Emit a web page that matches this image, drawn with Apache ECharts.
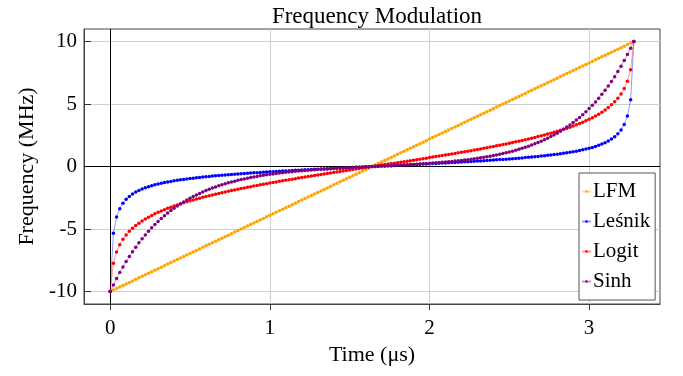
<!DOCTYPE html>
<html>
<head>
<meta charset="utf-8">
<script src="https://cdn.jsdelivr.net/npm/echarts@6/dist/echarts.min.js"></script>
<style>
  html, body { margin: 0; padding: 0; background: #fff; }
  #chart { width: 683px; height: 376px; }
</style>
</head>
<body>
<div id="chart"></div>
<script>
// sample times (µs)
const time = [
  0, 0.02, 0.04, 0.06, 0.08, 0.1, 0.12, 0.14, 0.16, 0.18,
  0.2, 0.22, 0.24, 0.26, 0.28, 0.3, 0.32, 0.34, 0.36, 0.38,
  0.4, 0.42, 0.44, 0.46, 0.48, 0.5, 0.52, 0.54, 0.56, 0.58,
  0.6, 0.62, 0.64, 0.66, 0.68, 0.7, 0.72, 0.74, 0.76, 0.78,
  0.8, 0.82, 0.84, 0.86, 0.88, 0.9, 0.92, 0.94, 0.96, 0.98,
  1, 1.02, 1.04, 1.06, 1.08, 1.1, 1.12, 1.14, 1.16, 1.18,
  1.2, 1.22, 1.24, 1.26, 1.28, 1.3, 1.32, 1.34, 1.36, 1.38,
  1.4, 1.42, 1.44, 1.46, 1.48, 1.5, 1.52, 1.54, 1.56, 1.58,
  1.6, 1.62, 1.64, 1.66, 1.68, 1.7, 1.72, 1.74, 1.76, 1.78,
  1.8, 1.82, 1.84, 1.86, 1.88, 1.9, 1.92, 1.94, 1.96, 1.98,
  2, 2.02, 2.04, 2.06, 2.08, 2.1, 2.12, 2.14, 2.16, 2.18,
  2.2, 2.22, 2.24, 2.26, 2.28, 2.3, 2.32, 2.34, 2.36, 2.38,
  2.4, 2.42, 2.44, 2.46, 2.48, 2.5, 2.52, 2.54, 2.56, 2.58,
  2.6, 2.62, 2.64, 2.66, 2.68, 2.7, 2.72, 2.74, 2.76, 2.78,
  2.8, 2.82, 2.84, 2.86, 2.88, 2.9, 2.92, 2.94, 2.96, 2.98,
  3, 3.02, 3.04, 3.06, 3.08, 3.1, 3.12, 3.14, 3.16, 3.18,
  3.2, 3.22, 3.24, 3.26, 3.28
];

// frequency (MHz) per sample
const lfm = [
  -10, -9.88, -9.76, -9.63, -9.51, -9.39, -9.27, -9.15, -9.02, -8.9,
  -8.78, -8.66, -8.54, -8.41, -8.29, -8.17, -8.05, -7.93, -7.8, -7.68,
  -7.56, -7.44, -7.32, -7.2, -7.07, -6.95, -6.83, -6.71, -6.59, -6.46,
  -6.34, -6.22, -6.1, -5.98, -5.85, -5.73, -5.61, -5.49, -5.37, -5.24,
  -5.12, -5, -4.88, -4.76, -4.63, -4.51, -4.39, -4.27, -4.15, -4.02,
  -3.9, -3.78, -3.66, -3.54, -3.41, -3.29, -3.17, -3.05, -2.93, -2.8,
  -2.68, -2.56, -2.44, -2.32, -2.2, -2.07, -1.95, -1.83, -1.71, -1.59,
  -1.46, -1.34, -1.22, -1.1, -0.98, -0.85, -0.73, -0.61, -0.49, -0.37,
  -0.24, -0.12,
  0,
  0.12, 0.24,
  0.37, 0.49, 0.61, 0.73, 0.85, 0.98, 1.1, 1.22, 1.34, 1.46,
  1.59, 1.71, 1.83, 1.95, 2.07, 2.2, 2.32, 2.44, 2.56, 2.68,
  2.8, 2.93, 3.05, 3.17, 3.29, 3.41, 3.54, 3.66, 3.78, 3.9,
  4.02, 4.15, 4.27, 4.39, 4.51, 4.63, 4.76, 4.88, 5, 5.12,
  5.24, 5.37, 5.49, 5.61, 5.73, 5.85, 5.98, 6.1, 6.22, 6.34,
  6.46, 6.59, 6.71, 6.83, 6.95, 7.07, 7.2, 7.32, 7.44, 7.56,
  7.68, 7.8, 7.93, 8.05, 8.17, 8.29, 8.41, 8.54, 8.66, 8.78,
  8.9, 9.02, 9.15, 9.27, 9.39, 9.51, 9.63, 9.76, 9.88, 10
];

const lesnik = [
  -10, -5.34, -4.04, -3.37, -2.93, -2.62, -2.39, -2.2, -2.04, -1.91,
  -1.8, -1.7, -1.61, -1.53, -1.46, -1.4, -1.34, -1.28, -1.23, -1.19,
  -1.14, -1.1, -1.06, -1.03, -0.99, -0.96, -0.93, -0.9, -0.87, -0.84,
  -0.81, -0.79, -0.76, -0.74, -0.72, -0.69, -0.67, -0.65, -0.63, -0.61,
  -0.59, -0.57, -0.56, -0.54, -0.52, -0.5, -0.49, -0.47, -0.45, -0.44,
  -0.42, -0.41, -0.39, -0.38, -0.36, -0.35, -0.33, -0.32, -0.3, -0.29,
  -0.28, -0.26, -0.25, -0.24, -0.22, -0.21, -0.2, -0.19, -0.17, -0.16,
  -0.15, -0.13, -0.12, -0.11, -0.1, -0.09, -0.07, -0.06, -0.05, -0.04,
  -0.02, -0.01,
  0,
  0.01, 0.02,
  0.04, 0.05, 0.06, 0.07, 0.09, 0.1, 0.11, 0.12, 0.13, 0.15,
  0.16, 0.17, 0.19, 0.2, 0.21, 0.22, 0.24, 0.25, 0.26, 0.28,
  0.29, 0.3, 0.32, 0.33, 0.35, 0.36, 0.38, 0.39, 0.41, 0.42,
  0.44, 0.45, 0.47, 0.49, 0.5, 0.52, 0.54, 0.56, 0.57, 0.59,
  0.61, 0.63, 0.65, 0.67, 0.69, 0.72, 0.74, 0.76, 0.79, 0.81,
  0.84, 0.87, 0.9, 0.93, 0.96, 0.99, 1.03, 1.06, 1.1, 1.14,
  1.19, 1.23, 1.28, 1.34, 1.4, 1.46, 1.53, 1.61, 1.7, 1.8,
  1.91, 2.04, 2.2, 2.39, 2.62, 2.93, 3.37, 4.04, 5.34, 10
];

const logit = [
  -10, -7.74, -6.83, -6.25, -5.81, -5.47, -5.18, -4.94, -4.72, -4.53,
  -4.35, -4.19, -4.05, -3.91, -3.78, -3.66, -3.55, -3.45, -3.34, -3.25,
  -3.15, -3.07, -2.98, -2.9, -2.82, -2.74, -2.67, -2.6, -2.53, -2.46,
  -2.4, -2.33, -2.27, -2.21, -2.15, -2.09, -2.03, -1.98, -1.92, -1.87,
  -1.81, -1.76, -1.71, -1.66, -1.61, -1.56, -1.51, -1.46, -1.41, -1.37,
  -1.32, -1.27, -1.23, -1.18, -1.14, -1.1, -1.05, -1.01, -0.97, -0.92,
  -0.88, -0.84, -0.8, -0.76, -0.72, -0.67, -0.63, -0.59, -0.55, -0.51,
  -0.47, -0.43, -0.39, -0.35, -0.31, -0.27, -0.24, -0.2, -0.16, -0.12,
  -0.08, -0.04,
  0,
  0.04, 0.08,
  0.12, 0.16, 0.2, 0.24, 0.27, 0.31, 0.35, 0.39, 0.43, 0.47,
  0.51, 0.55, 0.59, 0.63, 0.67, 0.72, 0.76, 0.8, 0.84, 0.88,
  0.92, 0.97, 1.01, 1.05, 1.1, 1.14, 1.18, 1.23, 1.27, 1.32,
  1.37, 1.41, 1.46, 1.51, 1.56, 1.61, 1.66, 1.71, 1.76, 1.81,
  1.87, 1.92, 1.98, 2.03, 2.09, 2.15, 2.21, 2.27, 2.33, 2.4,
  2.46, 2.53, 2.6, 2.67, 2.74, 2.82, 2.9, 2.98, 3.07, 3.15,
  3.25, 3.34, 3.45, 3.55, 3.66, 3.78, 3.91, 4.05, 4.19, 4.35,
  4.53, 4.72, 4.94, 5.18, 5.47, 5.81, 6.25, 6.83, 7.74, 10
];

const sinh = [
  -10, -9.47, -8.96, -8.48, -8.03, -7.6, -7.19, -6.81, -6.45, -6.1,
  -5.78, -5.47, -5.17, -4.9, -4.64, -4.39, -4.15, -3.93, -3.72, -3.52,
  -3.33, -3.16, -2.99, -2.83, -2.67, -2.53, -2.4, -2.27, -2.15, -2.03,
  -1.92, -1.82, -1.72, -1.63, -1.54, -1.46, -1.38, -1.3, -1.23, -1.17,
  -1.1, -1.04, -0.99, -0.93, -0.88, -0.83, -0.79, -0.74, -0.7, -0.66,
  -0.62, -0.59, -0.55, -0.52, -0.49, -0.46, -0.44, -0.41, -0.38, -0.36,
  -0.34, -0.32, -0.3, -0.28, -0.26, -0.24, -0.22, -0.2, -0.19, -0.17,
  -0.16, -0.14, -0.13, -0.11, -0.1, -0.09, -0.07, -0.06, -0.05, -0.04,
  -0.02, -0.01,
  0,
  0.01, 0.02,
  0.04, 0.05, 0.06, 0.07, 0.09, 0.1, 0.11, 0.13, 0.14, 0.16,
  0.17, 0.19, 0.2, 0.22, 0.24, 0.26, 0.28, 0.3, 0.32, 0.34,
  0.36, 0.38, 0.41, 0.44, 0.46, 0.49, 0.52, 0.55, 0.59, 0.62,
  0.66, 0.7, 0.74, 0.79, 0.83, 0.88, 0.93, 0.99, 1.04, 1.1,
  1.17, 1.23, 1.3, 1.38, 1.46, 1.54, 1.63, 1.72, 1.82, 1.92,
  2.03, 2.15, 2.27, 2.4, 2.53, 2.67, 2.83, 2.99, 3.16, 3.33,
  3.52, 3.72, 3.93, 4.15, 4.39, 4.64, 4.9, 5.17, 5.47, 5.78,
  6.1, 6.45, 6.81, 7.19, 7.6, 8.03, 8.48, 8.96, 9.47, 10
];

const names = ['LFM', 'Leśnik', 'Logit', 'Sinh'];
const colors = ['#FFA500', '#0000FF', '#FF0000', '#800080'];
const lineColors = ['rgba(255,165,0,0.4)', 'rgba(0,0,255,0.4)', 'rgba(255,0,0,0.4)', 'rgba(128,0,128,0.4)'];
const xTicks = [0, 1, 2, 3];
const yTicks = [-10, -5, 0, 5, 10];

const FONT = 'Liberation Serif';

const pairs = (ys) => time.map((t, i) => [t, ys[i]]);

const makeSeries = (name, ys, idx) => ({
  name: name,
  type: 'line',
  data: pairs(ys),
  symbol: 'circle',
  symbolSize: 3.5,
  showSymbol: true,
  itemStyle: { color: colors[idx] },
  lineStyle: { color: lineColors[idx], width: 1 },
  z: 3 + idx
});

let chart = echarts.init(document.getElementById('chart'), null, { renderer: 'canvas' });
chart.setOption({
  animation: false,
  backgroundColor: '#fff',
  textStyle: { fontFamily: FONT, color: '#000' },
  title: {
    text: 'Frequency Modulation',
    left: 372,
    top: 0,
    textAlign: 'center',
    textStyle: { fontFamily: FONT, fontSize: 23, fontWeight: 'normal', color: '#000' }
  },
  legend: {
    data: names,
    orient: 'vertical',
    left: 579,
    top: 173,
    itemWidth: 9,
    itemHeight: 3,
    itemGap: 9,
    padding: [8, 5, 8, 2],
    backgroundColor: '#fff',
    borderColor: '#555',
    borderWidth: 1,
    textStyle: { fontFamily: FONT, fontSize: 21, color: '#000', padding: [0, 0, 0, -3] }
  },
  grid: {
    left: 84,
    right: 23,
    top: 29,
    bottom: 72,
    show: true,
    borderColor: '#444',
    borderWidth: 1
  },
  xAxis: {
    type: 'value',
    min: -0.164,
    max: 3.444,
    name: 'Time (μs)',
    nameLocation: 'middle',
    nameGap: 40,
    nameTextStyle: { fontFamily: FONT, fontSize: 22, color: '#000' },
    axisLine: { show: true, onZero: false, lineStyle: { color: '#444' } },
    axisTick: { show: true, length: 6, customValues: xTicks, lineStyle: { color: '#333' } },
    axisLabel: { customValues: xTicks, margin: 14, fontFamily: FONT, fontSize: 21, color: '#000' },
    splitLine: { show: true, lineStyle: { color: '#cfcfcf', width: 1 } }
  },
  yAxis: {
    type: 'value',
    min: -11,
    max: 11,
    name: 'Frequency (MHz)',
    nameLocation: 'middle',
    nameGap: 44,
    nameTextStyle: { fontFamily: FONT, fontSize: 22, color: '#000' },
    axisLine: { show: true, onZero: false, lineStyle: { color: '#444' } },
    axisTick: { show: true, inside: true, length: 7, customValues: yTicks, lineStyle: { color: '#333' } },
    axisLabel: { customValues: yTicks, margin: 7, fontFamily: FONT, fontSize: 21, color: '#000' },
    splitLine: { show: true, lineStyle: { color: '#cfcfcf', width: 1 } }
  },
  series: [
    {
      // zero lines drawn under the curves
      name: 'zero',
      type: 'line',
      data: [],
      z: 1,
      markLine: {
        silent: true,
        symbol: 'none',
        label: { show: false },
        lineStyle: { color: '#000', width: 1, type: 'solid' },
        data: [{ xAxis: 0 }, { yAxis: 0 }]
      }
    },
    makeSeries(names[0], lfm, 0),
    makeSeries(names[1], lesnik, 1),
    makeSeries(names[2], logit, 2),
    makeSeries(names[3], sinh, 3)
  ]
});
</script>
</body>
</html>
